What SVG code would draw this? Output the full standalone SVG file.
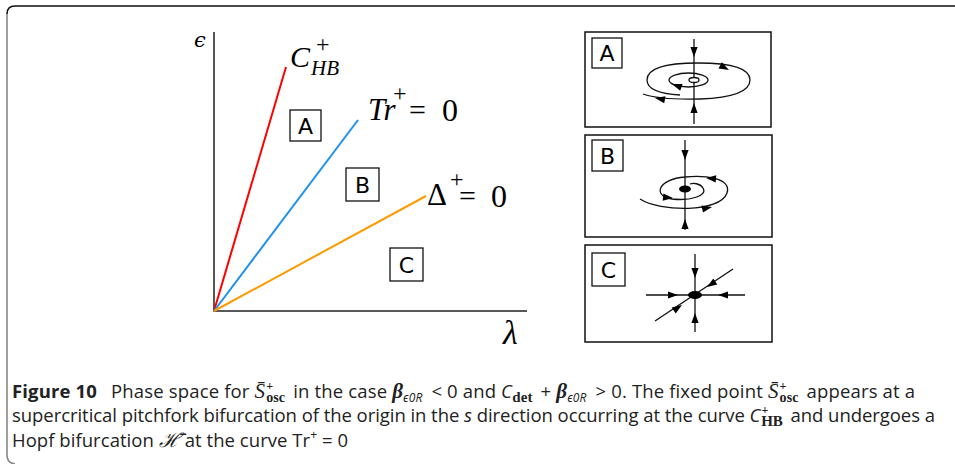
<svg xmlns="http://www.w3.org/2000/svg" xmlns:xlink="http://www.w3.org/1999/xlink" width="955" height="464" viewBox="0 0 955 464">
<style>
.ax{stroke:#222;stroke-width:1.5;fill:none}
.bx{stroke:#111;stroke-width:1.3;fill:none}
.pn{stroke:#111;stroke-width:1.5;fill:#fff}
.ln{stroke:#111;stroke-width:1.3;fill:none}
.lab{font-family:"DejaVu Sans","Liberation Sans",sans-serif;font-size:22px;fill:#000}
.m{font-family:"Liberation Serif","DejaVu Serif",serif;font-style:italic;fill:#000}
.mu{font-family:"Liberation Serif","DejaVu Serif",serif;font-style:normal}
.cap{font-family:"Open Sans","Noto Sans",sans-serif;font-size:18.5px;fill:#222}
.cm{font-family:"Liberation Serif","DejaVu Serif",serif;font-style:italic}
.cmb{font-family:"Liberation Serif","DejaVu Serif",serif;font-weight:bold;font-style:normal}
.ci{font-style:italic}
</style>
<defs>
<path id="ah" d="M0,0 L-10,-3.6 L-10,3.6 Z" fill="#000"/>
</defs>
<rect width="955" height="464" fill="#fff"/>
<g id="frame">
<path d="M955,6 L15,6 Q7,6 7,14" stroke="#111" stroke-width="1.6" fill="none"/>
<path d="M7,14 L7,455 Q7,463 15,464" stroke="#888" stroke-width="1.6" fill="none"/>
</g>
<g id="plot">
<path class="ax" d="M214,32 L214,311 L527,311"/>
<text x="194" y="47" style="font-family:'DejaVu Serif',serif;font-style:italic;font-size:21px">ϵ</text>
<text class="m" x="503" y="344" font-size="34">λ</text>
</g>
<g id="connectors">
<line x1="214" y1="311" x2="286" y2="67" stroke="#f00" stroke-width="2"/>
<line x1="214" y1="311" x2="358" y2="120" stroke="#1e90f0" stroke-width="2"/>
<line x1="214" y1="311" x2="426" y2="196" stroke="#ff9a00" stroke-width="2"/>
</g>
<g id="label-CHB">
<text class="m" x="290" y="67" font-size="30">C<tspan class="mu" font-size="24" x="316" y="52">+</tspan><tspan font-size="21" x="311" y="75">HB</tspan></text>
</g>
<g id="label-Tr">
<text class="m" x="368" y="120" font-size="31">Tr<tspan class="mu" font-size="24" x="393" y="101">+</tspan><tspan class="mu" font-size="30" x="409" y="120">=</tspan><tspan class="mu" font-size="32" x="442" y="121">0</tspan></text>
</g>
<g id="label-Delta">
<text class="mu" x="427" y="205" font-size="31">Δ<tspan font-size="24" x="450" y="187">+</tspan><tspan font-size="30" x="459" y="206">=</tspan><tspan font-size="32" x="491" y="207">0</tspan></text>
</g>
<g id="region-A">
<rect class="bx" x="290" y="110" width="31" height="31"/>
<text class="lab" x="305.5" y="134" text-anchor="middle">A</text>
</g>
<g id="region-B">
<rect class="bx" x="346" y="168" width="33" height="33"/>
<text class="lab" x="362.5" y="193" text-anchor="middle">B</text>
</g>
<g id="region-C">
<rect class="bx" x="390" y="248" width="33" height="33"/>
<text class="lab" x="406.5" y="273" text-anchor="middle">C</text>
</g>
<g id="panel-A">
<rect class="pn" x="585" y="32" width="186" height="95"/>
<rect class="bx" x="592" y="38" width="30" height="30"/>
<text class="lab" x="607" y="61" text-anchor="middle">A</text>
<line class="ln" x1="694" y1="39" x2="694" y2="124"/>
<ellipse class="ln" cx="688.5" cy="80" rx="19.5" ry="7"/>
<path class="ln" d="M643,94 Q660,100 700,99 Q750,97 750,80 Q750,63 698,63 Q647,63 647,80 Q647,93 680,95"/>
<ellipse cx="694" cy="80" rx="5" ry="2.5" fill="#fff" stroke="#111" stroke-width="1.3"/>
<use xlink:href="#ah" transform="translate(694,57) rotate(90)"/>
<use xlink:href="#ah" transform="translate(694,103) rotate(-90)"/>
<use xlink:href="#ah" transform="translate(729,70) rotate(28)"/>
<use xlink:href="#ah" transform="translate(672,84) rotate(200)"/>
<use xlink:href="#ah" transform="translate(655,98) rotate(190)"/>
</g>
<g id="panel-B">
<rect class="pn" x="585" y="135" width="187" height="102"/>
<rect class="bx" x="592" y="140" width="31" height="31"/>
<text class="lab" x="607.5" y="164" text-anchor="middle">B</text>
<line class="ln" x1="685" y1="140" x2="685" y2="230"/>
<path class="ln" d="M640,199 C660,212 720,213 727,193 C732,178 705,175 685,177 C658,179 652,196 672,199 C690,201 708,196 703,188 C700,183 693,183 690,184"/>
<ellipse cx="685" cy="189" rx="6" ry="3.5" fill="#000"/>
<use xlink:href="#ah" transform="translate(685,160) rotate(90)"/>
<use xlink:href="#ah" transform="translate(685,219) rotate(-90)"/>
<use xlink:href="#ah" transform="translate(706,178) rotate(185)"/>
<use xlink:href="#ah" transform="translate(712,207) rotate(-12)"/>
<use xlink:href="#ah" transform="translate(673,198) rotate(5)"/>
</g>
<g id="panel-C">
<rect class="pn" x="585" y="245" width="187" height="97"/>
<rect class="bx" x="592" y="253" width="33" height="33"/>
<text class="lab" x="608.5" y="278" text-anchor="middle">C</text>
<line class="ln" x1="695" y1="254" x2="695" y2="332"/>
<line class="ln" x1="646" y1="295" x2="745" y2="295"/>
<line class="ln" x1="655" y1="321" x2="733" y2="269"/>
<ellipse cx="695" cy="295" rx="7" ry="4" fill="#000"/>
<use xlink:href="#ah" transform="translate(695,278) rotate(90)"/>
<use xlink:href="#ah" transform="translate(695,313) rotate(-90)"/>
<use xlink:href="#ah" transform="translate(678,295)"/>
<use xlink:href="#ah" transform="translate(718,295) rotate(180)"/>
<use xlink:href="#ah" transform="translate(682,305) rotate(-33.7)"/>
<use xlink:href="#ah" transform="translate(707,287) rotate(146.3)"/>
</g>
<g id="caption">
<text class="cap" x="12" y="398" textLength="903" lengthAdjust="spacing"><tspan font-weight="bold">Figure 10</tspan><tspan dx="14">Phase space for </tspan><tspan class="cm" font-size="21">S̄</tspan><tspan class="cmb" font-size="12" dx="1" dy="-8">+</tspan><tspan class="cmb" font-size="14" dx="-7" dy="12">osc</tspan><tspan dy="-4" dx="3"> in the case </tspan><tspan class="cm" font-weight="bold" font-size="21">β</tspan><tspan class="ci" font-size="12" dy="4">ϵ0R</tspan><tspan dy="-4" dx="4"> &lt; 0 and </tspan><tspan class="ci">C</tspan><tspan class="cmb" font-size="15" dy="4">det</tspan><tspan dy="-4" dx="3"> + </tspan><tspan class="cm" font-weight="bold" font-size="21">β</tspan><tspan class="ci" font-size="12" dy="4">ϵ0R</tspan><tspan dy="-4" dx="4"> &gt; 0. The fixed point </tspan><tspan class="cm" font-size="21">S̄</tspan><tspan class="cmb" font-size="12" dx="1" dy="-8">+</tspan><tspan class="cmb" font-size="14" dx="-7" dy="12">osc</tspan><tspan dy="-4" dx="3"> appears at a</tspan></text>
<text class="cap" x="12" y="422" textLength="923" lengthAdjust="spacing">supercritical pitchfork bifurcation of the origin in the <tspan class="ci">s</tspan> direction occurring at the curve <tspan class="ci">C</tspan><tspan class="cmb" font-size="12" dx="1" dy="-8">+</tspan><tspan class="cmb" font-size="15" dx="-7" dy="12">HB</tspan><tspan dy="-4" dx="3"> and undergoes a</tspan></text>
<text class="cap" x="12" y="447" textLength="336" lengthAdjust="spacing">Hopf bifurcation <tspan font-family="DejaVu Serif, serif" font-style="italic" font-size="20">ℋ̄</tspan> at the curve Tr<tspan font-size="12" dy="-8">+</tspan><tspan dy="8"> = 0</tspan></text>
</g>
</svg>
